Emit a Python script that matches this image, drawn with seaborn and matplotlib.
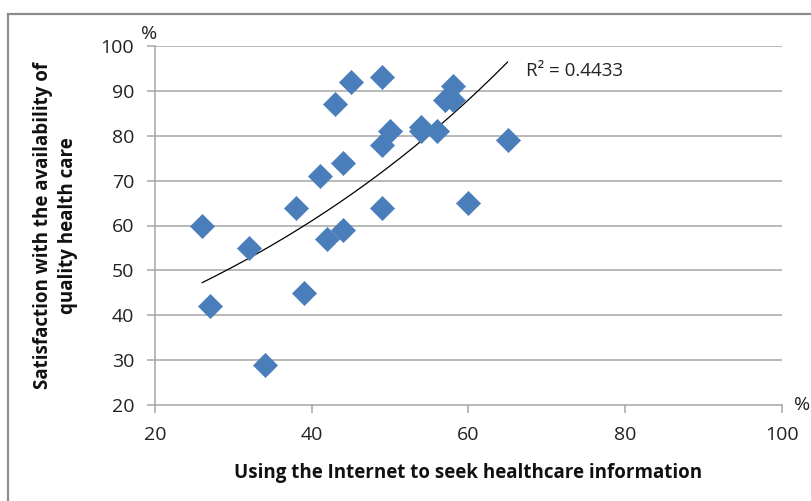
import numpy as np
import pandas as pd
import matplotlib
matplotlib.use("Agg")
import matplotlib.pyplot as plt
import seaborn as sns
from matplotlib.patches import Rectangle

internet_use = [26, 27, 32, 34, 38, 39, 41, 42, 43, 44, 44, 45, 49, 49, 49, 50, 54, 54, 56, 57, 58, 58, 60, 65]
satisfaction = [60, 42, 55, 29, 64, 45, 71, 57, 87, 74, 59, 92, 93, 78, 64, 81, 81, 82, 81, 88, 91, 88, 65, 79]

df = pd.DataFrame({"x": internet_use, "y": satisfaction})

sns.set_theme(style="white")
plt.rcParams['font.family'] = ['Open Sans', 'DejaVu Sans']

fig = plt.figure(figsize=(8.11, 5.01), dpi=100)
ax = fig.add_axes([155/811, 1-405/501, (782-155)/811, (405-46)/501])

grid_c = "#a6a6a6"
for v in range(30, 101, 10):
    ax.axhline(v, color=grid_c, lw=1.1, zorder=0)

# exponential trendline fitted from data
b, lna = np.polyfit(df["x"], np.log(df["y"]), 1)
xs = np.linspace(df["x"].min(), df["x"].max(), 200)
ys = np.exp(lna) * np.exp(b * xs)
ax.plot(xs, ys, color="black", lw=0.9, zorder=2)

sns.scatterplot(data=df, x="x", y="y", ax=ax, marker="D", s=150,
                color="#4a7ebb", edgecolor="#4a7ebb", linewidth=0.5, zorder=3)

ax.set_xlim(20, 100)
ax.set_ylim(20, 100)
ax.set_xticks([20, 40, 60, 80, 100])
ax.set_yticks(range(20, 101, 10))
for s in ["top", "right"]:
    ax.spines[s].set_visible(False)
for s in ["left", "bottom"]:
    ax.spines[s].set_color(grid_c)
    ax.spines[s].set_linewidth(1.1)
ax.tick_params(axis="both", direction="out", length=6, width=1.1, color=grid_c,
               labelsize=14, labelcolor="#222222")
ax.tick_params(axis="x", bottom=True, pad=9)
ax.tick_params(axis="y", left=True, pad=9)

ax.set_xlabel("Using the Internet to seek healthcare information", fontsize=13.5,
              fontweight="bold", color="#111111", labelpad=14)
ax.set_ylabel("Satisfaction with the availability of\nquality health care", fontsize=13.5,
              fontweight="bold", color="#111111", labelpad=16, linespacing=1.35)

ax.text(19.3, 100.6, "%", fontsize=14, color="#222222", ha="center", va="bottom")
ax.text(101.5, 20, "%", fontsize=14, color="#222222", ha="left", va="center")
ax.text(0.592, 0.93, "R² = 0.4433", transform=ax.transAxes, fontsize=13.5,
        color="#222222", ha="left", va="center")

fig.patches.append(Rectangle((8/811, -0.1), 1.2, 1 - 14/501 + 0.1, transform=fig.transFigure,
                             fill=False, edgecolor="#8c8c8c", lw=1.6))

fig.savefig("out.png", dpi=100)
